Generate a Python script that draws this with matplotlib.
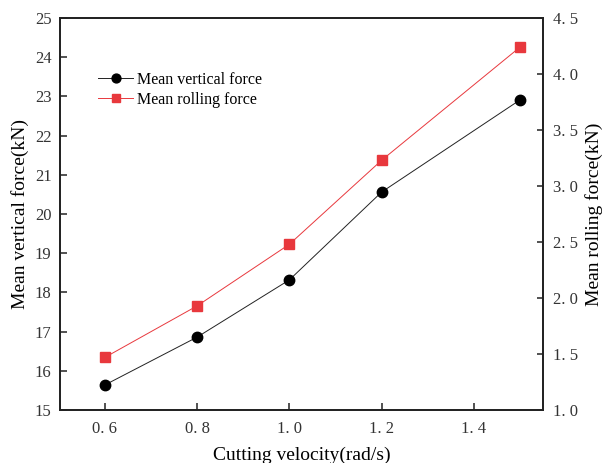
import matplotlib.pyplot as plt

plt.rcParams["font.family"] = ["Liberation Serif", "DejaVu Serif"]

velocity = [0.6, 0.8, 1.0, 1.2, 1.5]
vertical_force = [15.64, 16.86, 18.32, 20.56, 22.91]
rolling_force = [1.47, 1.93, 2.48, 3.23, 4.24]

x_ticks = [0.6, 0.8, 1.0, 1.2, 1.4]
x_tick_labels = ["0. 6", "0. 8", "1. 0", "1. 2", "1. 4"]
left_ticks = [15, 16, 17, 18, 19, 20, 21, 22, 23, 24, 25]
right_ticks = [1.0, 1.5, 2.0, 2.5, 3.0, 3.5, 4.0, 4.5]
right_tick_labels = ["1. 0", "1. 5", "2. 0", "2. 5", "3. 0", "3. 5", "4. 0", "4. 5"]

fig = plt.figure(figsize=(6.04, 4.63), dpi=100)
ax = fig.add_axes([0.099, 0.1145, 0.8, 0.8465])
ax2 = ax.twinx()

l1, = ax.plot(velocity, vertical_force, color="#222222", lw=0.7, marker="o",
              markersize=7.5, markerfacecolor="black", markeredgecolor="black")
l2, = ax2.plot(velocity, rolling_force, color="#e8383d", lw=0.7, marker="s",
               markersize=6.5, markerfacecolor="#e8383d", markeredgecolor="#e8383d")

ax.set_xlim(0.502, 1.55)
ax.set_ylim(15, 25)
ax2.set_ylim(1.0, 4.5)

ax.set_xticks(x_ticks)
ax.set_xticklabels(x_tick_labels)
ax.set_yticks(left_ticks)
ax2.set_yticks(right_ticks)
ax2.set_yticklabels(right_tick_labels)

ax.tick_params(axis="both", direction="in", labelsize=12, length=5, width=1.2, colors="#333333")
ax.tick_params(axis="x", pad=8)
ax.tick_params(axis="y", pad=6)
ax2.tick_params(axis="y", direction="in", labelsize=12, length=4, width=1.2, colors="#333333", pad=7)
for a in (ax, ax2):
    for s in a.spines.values():
        s.set_linewidth(1.3)
        s.set_color("#222222")

ax.set_xlabel("Cutting velocity(rad/s)", fontsize=14, labelpad=7)
ax.set_ylabel("Mean vertical force(kN)", fontsize=14, labelpad=4)
ax2.set_ylabel("Mean rolling force(kN)", fontsize=14, labelpad=5)

ax.legend([l1, l2], ["Mean vertical force", "Mean rolling force"], loc="upper left",
          bbox_to_anchor=(0.05, 0.90), frameon=False, fontsize=11.5, handlelength=2.2,
          handletextpad=0.2, labelspacing=0.25, markerscale=0.85)

plt.savefig("out.png", dpi=100)
